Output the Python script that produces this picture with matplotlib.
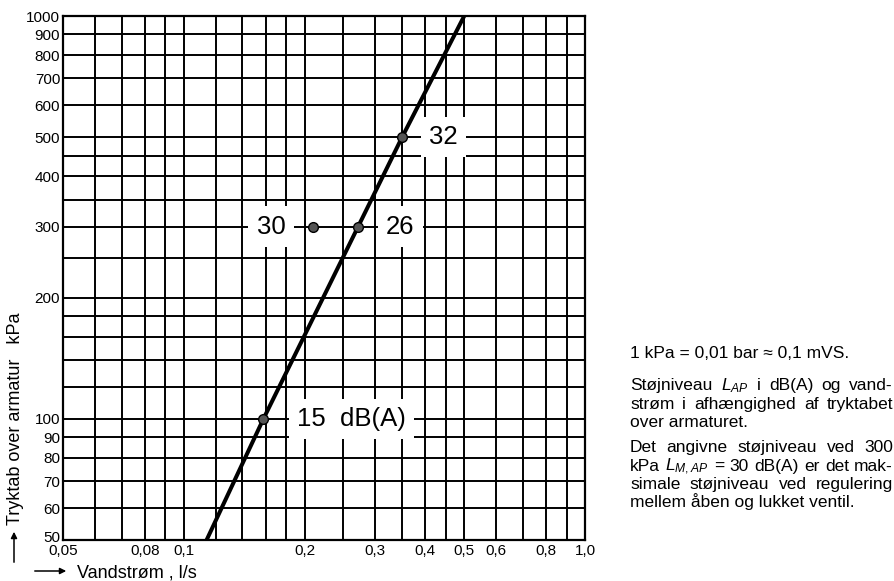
import matplotlib
matplotlib.use("Agg")
import matplotlib.pyplot as plt
from matplotlib.patches import FancyArrowPatch
from matplotlib.transforms import ScaledTranslation

plt.rcParams['font.family'] = ['Liberation Sans', 'DejaVu Sans']
plt.rcParams['mathtext.fontset'] = 'custom'
plt.rcParams['mathtext.it'] = 'Liberation Sans:italic'
plt.rcParams['mathtext.rm'] = 'Liberation Sans'

# grid of the nomogram (log-log)
x_grid = [0.05, 0.06, 0.07, 0.08, 0.09, 0.1, 0.12, 0.14, 0.16, 0.18, 0.2,
          0.25, 0.3, 0.35, 0.4, 0.45, 0.5, 0.6, 0.7, 0.8, 0.9, 1.0]
y_grid = [50, 60, 70, 80, 90, 100, 120, 140, 160, 180, 200, 250, 300, 350,
          400, 450, 500, 600, 700, 800, 900, 1000]
x_ticks = [0.05, 0.08, 0.1, 0.2, 0.3, 0.4, 0.5, 0.6, 0.8, 1.0]
x_labels = ['0,05', '0,08', '0,1', '0,2', '0,3', '0,4', '0,5', '0,6', '0,8', '1,0']
y_ticks = [50, 60, 70, 80, 90, 100, 200, 300, 400, 500, 600, 700, 800, 900, 1000]

# valve characteristic: flow (l/s) vs pressure loss (kPa)
flow = [0.114, 0.158, 0.272, 0.35, 0.5]
dp = [50, 100, 300, 500, 1000]

# noise levels on the curve
pt_flow = [0.158, 0.272, 0.35]
pt_dp = [100, 300, 500]
pt_text = ['15  dB(A)', '26', '32']
pt_off = [(88, 0), (42, 0), (41, 0)]

# max noise level at 300 kPa
max_flow = 0.21
max_dp = 300
max_text = '30'

W, H = 895, 581
fig = plt.figure(figsize=(W / 100, H / 100), dpi=100)
ax = fig.add_axes([63/W, 41/H, 522/W, 524/H])
ax.set_xscale('log')
ax.set_yscale('log')
ax.set_xlim(0.05, 1.0)
ax.set_ylim(50, 1000)

for v in x_grid:
    ax.axvline(v, color='black', lw=1.4, zorder=1)
for v in y_grid:
    ax.axhline(v, color='black', lw=1.4, zorder=1)

ax.plot(flow, dp, color='black', lw=2.9, zorder=4)
ax.plot(pt_flow, pt_dp, 'o', color='#555555', mec='black', ms=7, zorder=5)
ax.plot([max_flow], [max_dp], 'o', color='#555555', mec='black', ms=7, zorder=5)

box = dict(facecolor='white', edgecolor='none', pad=6)
for x, y, s, off in zip(pt_flow, pt_dp, pt_text, pt_off):
    ax.annotate(s, (x, y), xytext=off, textcoords='offset pixels',
                ha='center', va='center', fontsize=18.5, bbox=box, zorder=3)
ax.annotate(max_text, (max_flow, max_dp), xytext=(-42, 0),
            textcoords='offset pixels', ha='center', va='center',
            fontsize=18.5, bbox=box, zorder=3)

ax.minorticks_off()
ax.set_xticks(x_ticks)
ax.set_xticklabels(x_labels)
ax.set_yticks(y_ticks)
ax.set_yticklabels([str(v) for v in y_ticks])
ax.tick_params(length=0, labelsize=11, pad=2)
ax.tick_params(axis='x', pad=3)
# lift the bottom y label a little so it clears the first x label
lab50 = ax.get_yticklabels()[0]
lab50.set_transform(lab50.get_transform()
                    + ScaledTranslation(0, 3/100, fig.dpi_scale_trans))
for s in ax.spines.values():
    s.set_linewidth(1.6)

# axis titles with arrows
fig.text(16/W, 1 - 419/H, 'Tryktab over armatur   kPa', rotation=90,
         ha='center', va='center', fontsize=13)
fig.add_artist(FancyArrowPatch(
    (14/W, 1 - 565/H), (14/W, 1 - 529/H), transform=fig.transFigure,
    arrowstyle='-|>', mutation_scale=9, lw=1.1, color='black'))
fig.add_artist(FancyArrowPatch(
    (32/W, 1 - 571/H), (69/W, 1 - 571/H), transform=fig.transFigure,
    arrowstyle='-|>', mutation_scale=9, lw=1.1, color='black'))
fig.text(77/W, 1 - 573/H, 'Vandstrøm , l/s', ha='left', va='center',
         fontsize=13)

# side notes, justified between x0 and x1 (y is the baseline)
notes = [
    (358, '1 kPa = 0,01 bar ≈ 0,1 mVS.', False),
    (390, r'Støjniveau $L_{AP}$ i dB(A) og vand-', True),
    (409, 'strøm i afhængighed af tryktabet', True),
    (427, 'over armaturet.', False),
    (452, 'Det angivne støjniveau ved 300', True),
    (471, r'kPa $L_{M,AP}$ = 30 dB(A) er det mak-', True),
    (489, 'simale støjniveau ved regulering', True),
    (507, 'mellem åben og lukket ventil.', False),
]
x0, x1 = 630, 893
fs = 12.5
renderer = fig.canvas.get_renderer()
for y, s, justify in notes:
    if not justify:
        fig.text(x0/W, 1 - y/H, s, ha='left', va='baseline', fontsize=fs)
        continue
    words = [fig.text(0, 1 - y/H, w, ha='left', va='baseline', fontsize=fs)
             for w in s.split(' ')]
    widths = [t.get_window_extent(renderer).width for t in words]
    gap = (x1 - x0 - sum(widths)) / (len(words) - 1)
    xp = x0
    for t, w in zip(words, widths):
        t.set_x(xp / W)
        xp += w + gap

fig.savefig('out.png', dpi=100, facecolor='white')
